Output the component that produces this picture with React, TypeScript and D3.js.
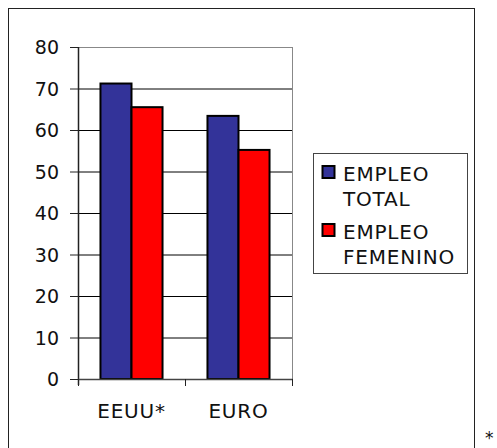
import React from "react";
import * as d3 from "d3";

const categories = ["EEUU*", "EURO"];
const seriesNames = ["EMPLEO TOTAL", "EMPLEO FEMENINO"];
const legendLines = [["EMPLEO", "TOTAL"], ["EMPLEO", "FEMENINO"]];
const empleoTotal = [71.2, 63.4];
const empleoFemenino = [65.5, 55.2];
const yTicks = [0, 10, 20, 30, 40, 50, 60, 70, 80];
const colors = ["#333399", "#FF0000"];

export default function App() {
  const W = 497, H = 448;
  const left = 78, right = 292, top = 47, bottom = 379;
  const y = d3.scaleLinear().domain([0, 80]).range([bottom, top]);
  const x0 = d3.scaleBand<string>().domain(categories).range([left, right]).paddingInner(0.42).paddingOuter(0.21);
  const x1 = d3.scaleBand<string>().domain(seriesNames).range([0, x0.bandwidth()]);
  const series = [empleoTotal, empleoFemenino];
  const font = "'DejaVu Sans', Verdana, sans-serif";
  const step = x0.step();
  const catTicks = [left, left + step, left + 2 * step];

  return (
    <svg width={W} height={H} style={{ position: "absolute", left: 0, top: 0 }} fontFamily={font}>
      <rect x={0} y={0} width={W} height={H} fill="#fff" />
      {/* outer border */}
      <rect x={8.5} y={8.5} width={466} height={460} fill="none" stroke="#222" strokeWidth={1} />
      {/* plot frame top/right */}
      <line x1={left} x2={right + 0.5} y1={top + 0.5} y2={top + 0.5} stroke="#888" />
      <line x1={right + 0.5} x2={right + 0.5} y1={top} y2={bottom} stroke="#888" />
      {/* gridlines */}
      {yTicks.slice(1, -1).map((t) => (
        <line key={t} x1={left} x2={right} y1={y(t) + 0.5} y2={y(t) + 0.5} stroke="#000" />
      ))}
      {/* bars */}
      {categories.map((c, i) => (
        <g key={c} transform={`translate(${x0(c)},0)`}>
          {series.map((s, j) => (
            <rect
              key={j}
              x={x1(seriesNames[j])}
              y={y(s[i])}
              width={x1.bandwidth()}
              height={y(0) - y(s[i])}
              fill={colors[j]}
              stroke="#000"
              strokeWidth={2}
            />
          ))}
        </g>
      ))}
      {/* y axis */}
      <line x1={left + 0.5} x2={left + 0.5} y1={top} y2={bottom + 6} stroke="#222" strokeWidth={1.5} />
      {yTicks.map((t) => (
        <g key={t}>
          <line x1={left - 8} x2={left} y1={y(t) + 0.5} y2={y(t) + 0.5} stroke="#222" />
          <text x={59} y={y(t) + 7} textAnchor="end" fontSize={19} fill="#111">
            {t}
          </text>
        </g>
      ))}
      {/* x axis */}
      <line x1={left} x2={right + 1} y1={bottom + 0.5} y2={bottom + 0.5} stroke="#444" strokeWidth={1.5} />
      {catTicks.map((tx, i) => (
        <line key={i} x1={tx + 0.5} x2={tx + 0.5} y1={bottom} y2={bottom + 7} stroke="#222" />
      ))}
      {categories.map((c) => (
        <text
          key={c}
          x={(x0(c) ?? 0) + x0.bandwidth() / 2}
          y={418}
          textAnchor="middle"
          fontSize={20}
          letterSpacing={0.8}
          fill="#111"
        >
          {c}
        </text>
      ))}
      {/* legend */}
      <rect x={313.5} y={153.5} width={154} height={120} fill="#fff" stroke="#444" />
      {legendLines.map((lines, i) => {
        const base = 181 + i * 58;
        return (
          <g key={i}>
            <rect x={322.5} y={base - 15} width={12} height={12} fill={colors[i]} stroke="#000" strokeWidth={2} />
            {lines.map((ln, k) => (
              <text key={k} x={343} y={base + k * 24.5} fontSize={20} letterSpacing={0.8} fill="#111">
                {ln}
              </text>
            ))}
          </g>
        );
      })}
      <text x={485} y={444} fontSize={17} fill="#111">*</text>
    </svg>
  );
}
